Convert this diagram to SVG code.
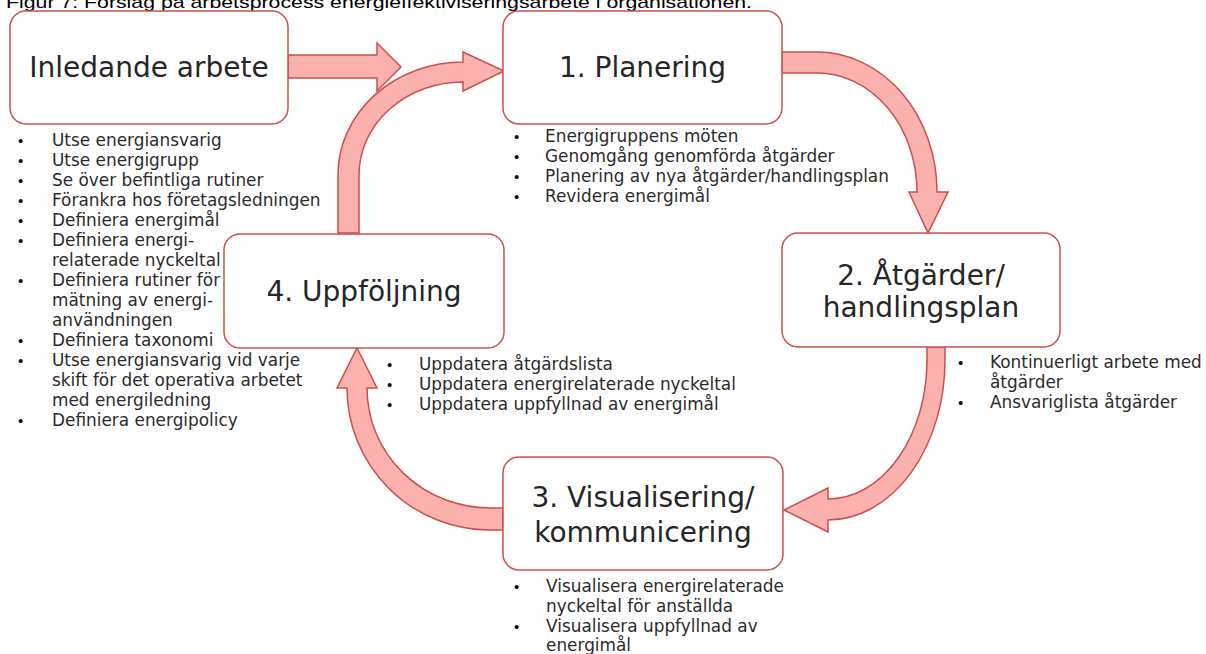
<svg xmlns="http://www.w3.org/2000/svg" width="1206" height="654" viewBox="0 0 1206 654">
<style>
.box{fill:#fff;stroke:#C9504C;stroke-width:1.5}
.arr{fill:#FBB2AF;stroke:#C9504C;stroke-width:1.5;stroke-linejoin:miter}
.ttl{font-family:"DejaVu Sans",sans-serif;font-size:28px;fill:#262626;text-anchor:middle}
.li{font-family:"DejaVu Sans",sans-serif;font-size:16.9px;fill:#2b2b2b}
.bu{font-family:"Liberation Sans",Arial,sans-serif;font-size:15px;fill:#111}
.cap{font-family:"Liberation Sans",Arial,sans-serif;font-size:17px;fill:#000}
</style>
<rect width="1206" height="654" fill="#fff"/>
<text class="cap" x="6" y="8" textLength="746" lengthAdjust="spacingAndGlyphs">Figur 7: Förslag på arbetsprocess energieffektiviseringsarbete i organisationen.</text>
<g id="connectors">
<path class="arr" d="M288,55 L377,55 L377,43 L401,67 L377,91 L377,78 L288,78 Z"/>
<path class="arr" d="M338,233 L338,175 A125 113 0 0 1 463,62 L463,52 L504,71 L463,91 L463,82 A104 93 0 0 0 359,175 L359,233 Z"/>
<path class="arr" d="M782,52 L817,52 A120 140 0 0 1 937,192 L948,192 L928,233 L909,192 L917,192 A100 119 0 0 0 817,73 L782,73 Z"/>
<path class="arr" d="M927,347 L945,347 L945,360 A117 160 0 0 1 828,520 L828,532 L784,510 L828,488 L828,499 A99 139 0 0 0 927,360 Z"/>
<path class="arr" d="M503,508 L490,508 A123 120 0 0 1 367,388 L377,388 L357,348 L337,388 L347,388 A143 142 0 0 0 490,530 L503,530 Z"/>
</g>
<g id="node-inledande">
<rect class="box" x="10" y="11" width="278" height="113" rx="16"/>
<text class="ttl" x="149" y="77">Inledande arbete</text>
<g class="bu"><text x="18" y="146">•</text><text x="18" y="166">•</text><text x="18" y="186">•</text><text x="18" y="206">•</text><text x="18" y="226">•</text><text x="18" y="246">•</text><text x="18" y="286">•</text><text x="18" y="346">•</text><text x="18" y="366">•</text><text x="18" y="426">•</text></g>
<g class="li">
<text x="52" y="146">Utse energiansvarig</text>
<text x="52" y="166">Utse energigrupp</text>
<text x="52" y="186">Se över befintliga rutiner</text>
<text x="52" y="206">Förankra hos företagsledningen</text>
<text x="52" y="226">Definiera energimål</text>
<text x="52" y="246">Definiera energi-</text>
<text x="52" y="266">relaterade nyckeltal</text>
<text x="52" y="286">Definiera rutiner för</text>
<text x="52" y="306">mätning av energi-</text>
<text x="52" y="326">användningen</text>
<text x="52" y="346">Definiera taxonomi</text>
<text x="52" y="366">Utse energiansvarig vid varje</text>
<text x="52" y="386">skift för det operativa arbetet</text>
<text x="52" y="406">med energiledning</text>
<text x="52" y="426">Definiera energipolicy</text>
</g>
</g>
<g id="node-planering">
<rect class="box" x="503" y="11" width="279" height="113" rx="16"/>
<text class="ttl" x="642.5" y="77">1. Planering</text>
<g class="bu"><text x="514" y="142">•</text><text x="514" y="162">•</text><text x="514" y="182">•</text><text x="514" y="202">•</text></g>
<g class="li">
<text x="545" y="142">Energigruppens möten</text>
<text x="545" y="162">Genomgång genomförda åtgärder</text>
<text x="545" y="182">Planering av nya åtgärder/handlingsplan</text>
<text x="545" y="202">Revidera energimål</text>
</g>
</g>
<g id="node-atgarder">
<rect class="box" x="782" y="233" width="278" height="114" rx="16"/>
<text class="ttl" x="921" y="285">2. Åtgärder/</text>
<text class="ttl" x="921" y="317">handlingsplan</text>
<g class="bu"><text x="958" y="368">•</text><text x="958" y="408">•</text></g>
<g class="li">
<text x="990" y="368">Kontinuerligt arbete med</text>
<text x="990" y="388">åtgärder</text>
<text x="990" y="408">Ansvariglista åtgärder</text>
</g>
</g>
<g id="node-uppfoljning">
<rect class="box" x="224" y="234" width="280" height="114" rx="16"/>
<text class="ttl" x="364" y="301">4. Uppföljning</text>
<g class="bu"><text x="387" y="370">•</text><text x="387" y="390">•</text><text x="387" y="410">•</text></g>
<g class="li">
<text x="419" y="370">Uppdatera åtgärdslista</text>
<text x="419" y="390">Uppdatera energirelaterade nyckeltal</text>
<text x="419" y="410">Uppdatera uppfyllnad av energimål</text>
</g>
</g>
<g id="node-visualisering">
<rect class="box" x="503" y="457" width="280" height="113" rx="16"/>
<text class="ttl" x="643" y="507">3. Visualisering/</text>
<text class="ttl" x="643" y="542">kommunicering</text>
<g class="bu"><text x="514" y="592">•</text><text x="514" y="632">•</text></g>
<g class="li">
<text x="546" y="592">Visualisera energirelaterade</text>
<text x="546" y="612">nyckeltal för anställda</text>
<text x="546" y="632">Visualisera uppfyllnad av</text>
<text x="546" y="651">energimål</text>
</g>
</g>
</svg>
